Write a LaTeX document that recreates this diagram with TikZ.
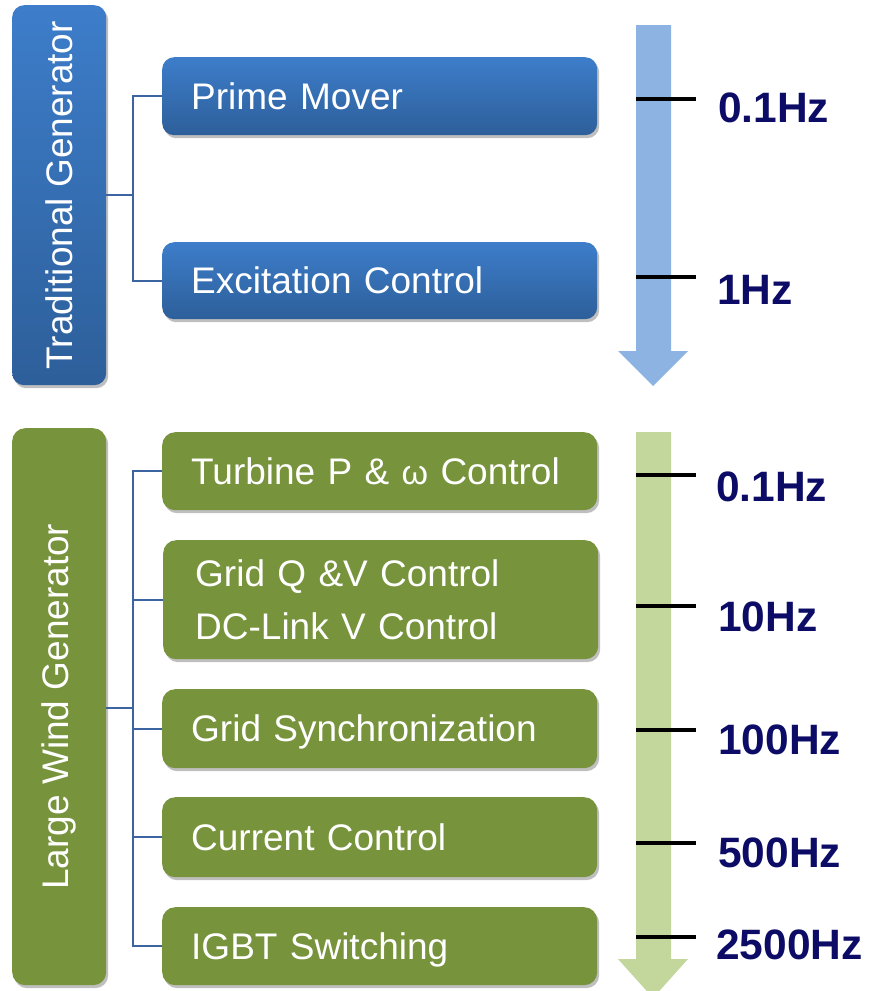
\documentclass[tikz,border=0pt]{standalone}
\usepackage{fontspec}
\setmainfont{Liberation Sans}
\usetikzlibrary{shadows}
\definecolor{bluetop}{HTML}{3D7DCA}
\definecolor{bluebot}{HTML}{2D5F9A}
\definecolor{greenbox}{HTML}{77933C}
\definecolor{connblue}{HTML}{3B64A0}
\definecolor{arrblue}{HTML}{8DB3E2}
\definecolor{arrgreen}{HTML}{C3D69B}
\definecolor{hznavy}{HTML}{0C0C66}
\tikzset{
  boxshadow/.style={drop shadow={shadow xshift=2pt,shadow yshift=-3pt,opacity=0.25,fill=black}},
  bluebox/.style={rounded corners=12pt, top color=bluetop, bottom color=bluebot, draw=none, boxshadow},
  greenbox/.style={rounded corners=13pt, fill=greenbox, draw=none, boxshadow},
  sidebox/.style={minimum width=94pt, inner sep=0pt, anchor=north west, text=white,
    font=\fontsize{37}{44}\selectfont},
  basebox/.style={minimum width=435pt, inner xsep=29pt, inner ysep=0pt, text width=377pt, align=left,
    anchor=north west, text=white, font=\fontsize{37}{44}\selectfont},
  stepbox/.style={basebox, text height=26.5pt, text depth=0pt},
  conn/.style={draw=connblue, line width=2pt},
  tick/.style={draw=black, line width=3.5pt},
  hz/.style={text=hznavy, font=\fontsize{42.5}{50}\selectfont\bfseries, anchor=west, inner sep=0pt}
}
\begin{document}
\begin{tikzpicture}[x=1pt,y=-1pt]
\useasboundingbox (0,0) rectangle (871,991);
% --- Traditional generator ---
\node[bluebox, sidebox, minimum height=380pt] (tg) at (12,5) {};
\node[text=white, rotate=90, font=\fontsize{37}{44}\selectfont, inner sep=0pt] (tgt) at (tg.center) {Traditional Generator};
\node[bluebox, stepbox, minimum height=78pt] (pm) at (162,57) {Prime Mover};
\node[bluebox, stepbox, minimum height=77pt] (ex) at (162,242) {Excitation Control};
\coordinate (j1) at (133,195);
\draw[conn] (tg.east |- j1) -- (j1);
\draw[conn] (pm.west) -| (j1);
\draw[conn] (ex.west) -| (j1);
% blue arrow
\fill[arrblue] (636,25) -- (671,25) -- (671,351) -- (688,351) -- (653,386) -- (618,351) -- (636,351) -- cycle;
\coordinate (bt1) at (636,99);
\coordinate (bt2) at (636,277);
\draw[tick] (bt1) -- ++(60,0);
\draw[tick] (bt2) -- ++(60,0);
\node[hz] (h1) at (718,108) {0.1Hz};
\node[hz] (h2) at (717,290) {1Hz};
% --- Large wind generator ---
\node[greenbox, sidebox, minimum height=557pt] (lw) at (12,428) {};
\node[text=white, rotate=90, font=\fontsize{37}{44}\selectfont, inner sep=0pt] (lwt) at (lw.center) {Large Wind Generator};
\node[greenbox, stepbox, minimum height=78pt] (tb) at (162,432) {Turbine P \& {\fontsize{34}{44}\selectfont ω} Control};
\node[greenbox, basebox, minimum height=119pt, minimum width=435pt, inner xsep=32pt, text width=371pt,
  font=\fontsize{37}{53}\selectfont] (gq) at (163,540) {Grid Q \&V Control\\DC-Link V Control};
\node[greenbox, stepbox, minimum height=79pt] (gs) at (162,689) {Grid Synchronization};
\node[greenbox, stepbox, minimum height=80pt] (cc) at (162,797) {Current Control};
\node[greenbox, stepbox, minimum height=78pt] (ig) at (162,907) {IGBT Switching};
\coordinate (j2) at (133,708);
\draw[conn] (lw.east |- j2) -- (j2);
\foreach \b in {tb,gq,gs,cc,ig} { \draw[conn] (\b.west) -| (j2); }
% green arrow
\fill[arrgreen] (636,432) -- (671,432) -- (671,959) -- (688,959) -- (653,998) -- (618,959) -- (636,959) -- cycle;
\foreach \y/\n in {475/gt1,606/gt2,730/gt3,843/gt4,937/gt5} {
  \coordinate (\n) at (636,\y);
  \draw[tick] (\n) -- ++(60,0);
}
\node[hz] (h3) at (716,487) {0.1Hz};
\node[hz] (h4) at (718,617) {10Hz};
\node[hz] (h5) at (718,740) {100Hz};
\node[hz] (h6) at (718,853) {500Hz};
\node[hz] (h7) at (716,945) {2500Hz};
\end{tikzpicture}
\end{document}
